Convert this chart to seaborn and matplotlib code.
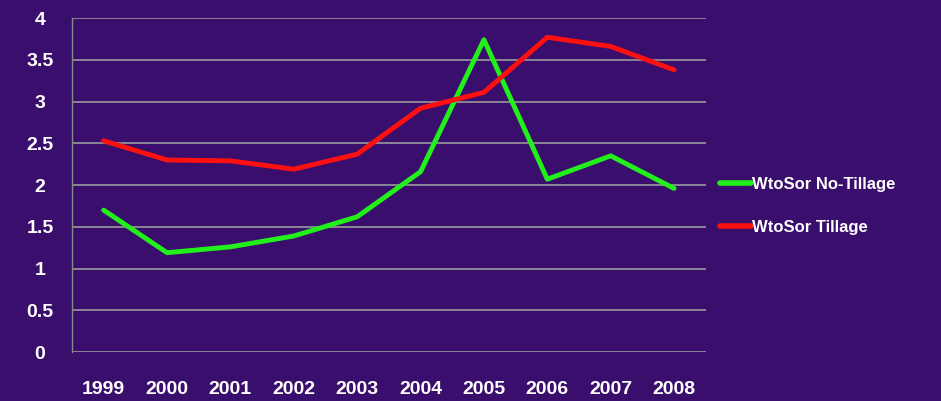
import matplotlib
matplotlib.use("Agg")
import matplotlib.pyplot as plt
import seaborn as sns
import pandas as pd

years = ["1999", "2000", "2001", "2002", "2003", "2004", "2005", "2006", "2007", "2008"]
no_tillage = [1.70, 1.19, 1.26, 1.39, 1.62, 2.16, 3.74, 2.07, 2.35, 1.96]
tillage = [2.53, 2.30, 2.29, 2.19, 2.37, 2.92, 3.11, 3.77, 3.66, 3.38]
series_names = ["WtoSor No-Tillage", "WtoSor Tillage"]
y_ticks = [0, 0.5, 1, 1.5, 2, 2.5, 3, 3.5, 4]
y_labels = ["0", "0.5", "1", "1.5", "2", "2.5", "3", "3.5", "4"]

df = pd.DataFrame({
    "year": years * 2,
    "value": no_tillage + tillage,
    "series": [series_names[0]] * len(years) + [series_names[1]] * len(years),
})

bg = "#3a0e6c"
sns.set_style("white")
plt.rcParams["font.family"] = ["Liberation Sans", "DejaVu Sans"]

fig = plt.figure(figsize=(9.41, 4.01), dpi=100)
fig.patch.set_facecolor(bg)
ax = fig.add_axes([0.0765, 0.122, 0.6735, 0.833])
ax.set_facecolor(bg)

sns.lineplot(data=df, x="year", y="value", hue="series",
             palette={series_names[0]: "#22f01a", series_names[1]: "#ff1010"},
             linewidth=3.5, ax=ax, sort=False)

ax.set_ylim(0, 4)
ax.set_xlim(-0.5, len(years) - 0.5)
ax.set_yticks(y_ticks)
ax.set_yticklabels(y_labels)
ax.yaxis.grid(True, color="#9a9a9a", linewidth=1.2)
ax.xaxis.grid(False)
ax.set_axisbelow(True)
for s in ["top", "right", "bottom"]:
    ax.spines[s].set_visible(False)
ax.spines["left"].set_color("#8a8a8a")
ax.spines["left"].set_linewidth(1.0)
ax.tick_params(axis="both", length=0, colors="white", labelsize=14)
ax.tick_params(axis="y", pad=23)
ax.tick_params(axis="x", pad=21)
for lbl in ax.get_xticklabels() + ax.get_yticklabels():
    lbl.set_fontweight("bold")
    lbl.set_color("white")
for lbl in ax.get_yticklabels():
    lbl.set_horizontalalignment("center")
ax.set_xlabel("")
ax.set_ylabel("")

leg = ax.legend(loc="center left", bbox_to_anchor=(1.022, 0.437), frameon=False,
                borderaxespad=0, borderpad=0,
                fontsize=12, handlelength=1.9, handletextpad=0.05, labelspacing=1.7)
for t in leg.get_texts():
    t.set_color("white")
    t.set_fontweight("bold")
for h in leg.get_lines():
    h.set_linewidth(4)

fig.savefig("out.png", dpi=100, facecolor=bg)
